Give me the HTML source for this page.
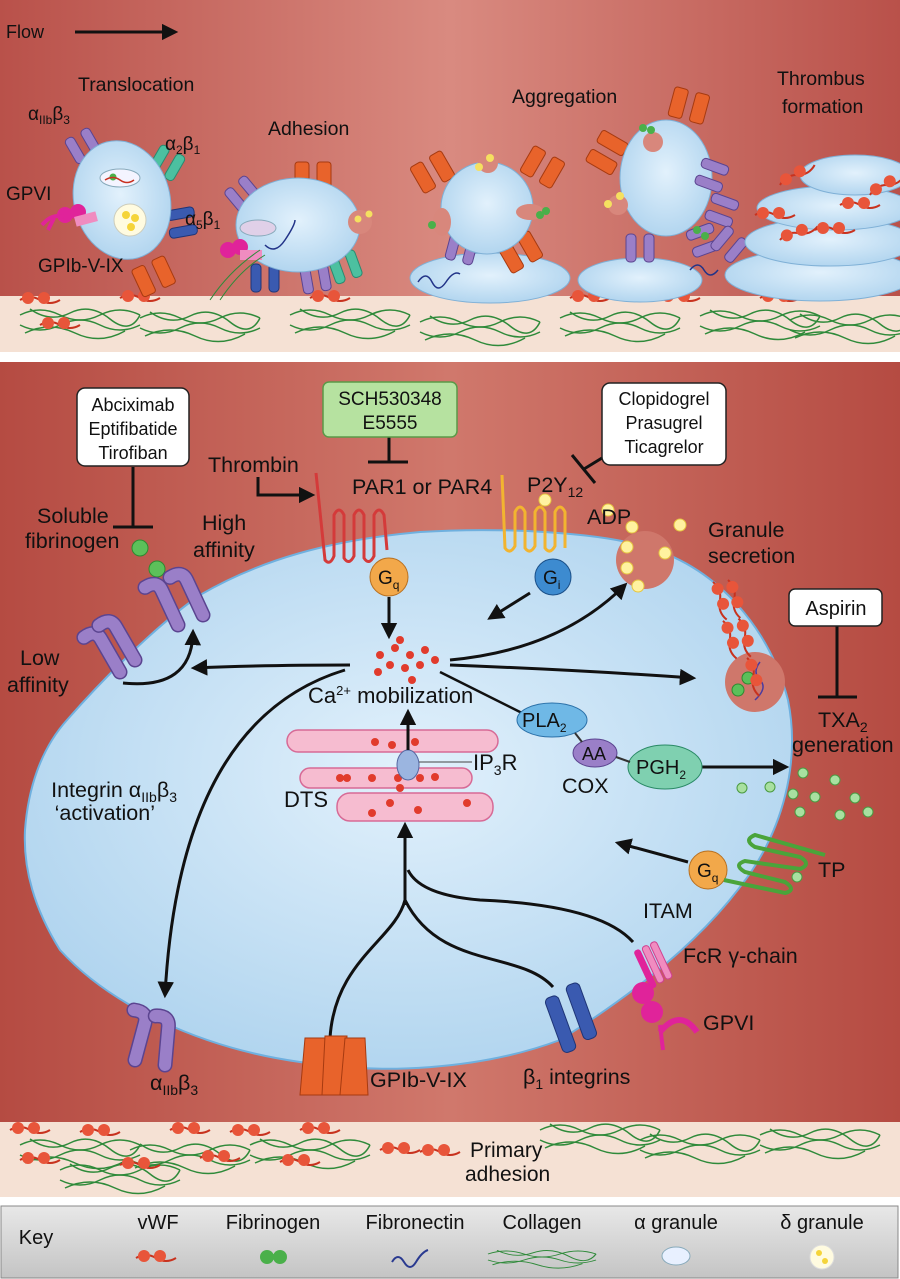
<!DOCTYPE html>
<html><head><meta charset="utf-8"><style>
html,body{margin:0;padding:0;background:#fff}
svg{display:block}
text{font-family:"Liberation Sans",sans-serif;fill:#111}
</style></head><body>
<svg width="900" height="1279" viewBox="0 0 900 1279" xmlns="http://www.w3.org/2000/svg">
<defs>
<linearGradient id="rg" x1="0" y1="0" x2="1" y2="0">
<stop offset="0" stop-color="#b9514a"/><stop offset="0.5" stop-color="#d98a80"/><stop offset="1" stop-color="#b9514a"/></linearGradient>
<linearGradient id="rg2" x1="0" y1="0" x2="1" y2="0">
<stop offset="0" stop-color="#b54b42"/><stop offset="0.5" stop-color="#d0786c"/><stop offset="1" stop-color="#b54b42"/></linearGradient>
<linearGradient id="kg" x1="0" y1="0" x2="0" y2="1">
<stop offset="0" stop-color="#e8e8e8"/><stop offset="1" stop-color="#c4c4c4"/></linearGradient>
<radialGradient id="cell" cx="0.5" cy="0.45" r="0.6"><stop offset="0" stop-color="#e2f1fc"/><stop offset="1" stop-color="#aed3ee"/></radialGradient>
<marker id="ah" viewBox="0 0 10 10" refX="8" refY="5" markerWidth="5.5" markerHeight="5.5" orient="auto"><path d="M0,0L10,5L0,10z" fill="#111"/></marker>
<g id="orange"><rect x="-18" y="-30" width="14" height="30" rx="3" fill="#e8632b" stroke="#a63a10"/><rect x="4" y="-30" width="14" height="30" rx="3" fill="#e8632b" stroke="#a63a10"/></g>
<g id="purple"><rect x="-14" y="-28" width="10" height="28" rx="4" fill="#9a7fc8" stroke="#5b4490"/><rect x="4" y="-28" width="10" height="28" rx="4" fill="#9a7fc8" stroke="#5b4490"/></g>
<g id="blue"><rect x="-14" y="-28" width="10" height="28" rx="4" fill="#3a5ab0" stroke="#1f3577"/><rect x="4" y="-28" width="10" height="28" rx="4" fill="#3a5ab0" stroke="#1f3577"/></g>
<g id="teal"><rect x="-14" y="-28" width="10" height="28" rx="4" fill="#4cc0a0" stroke="#2a8a70"/><rect x="4" y="-28" width="10" height="28" rx="4" fill="#4cc0a0" stroke="#2a8a70"/></g>
<g id="hook"><path d="M0,0 L0,-38 Q0,-50 -14,-48" stroke="#5b4490" stroke-width="15" fill="none" stroke-linecap="round"/><path d="M0,0 L0,-38 Q0,-50 -14,-48" stroke="#9a7fc8" stroke-width="12" fill="none" stroke-linecap="round"/></g>
<g id="vwf"><path d="M0,0 q10,-6 20,0 t20,0" stroke="#c8321e" stroke-width="2" fill="none"/><circle cx="8" cy="-2" r="6" fill="#e8553a"/><circle cx="24" cy="-2" r="6" fill="#e8553a"/></g>
<g id="col" fill="none" stroke="#2f8a3a" stroke-width="1.5"><path d="M0,0 q20,-10 40,0 t40,0 t40,0"/><path d="M0,10 q20,10 40,0 t40,0 t40,0"/><path d="M10,-6 q20,14 40,4 t40,6 t30,-4"/><path d="M5,18 q25,-12 50,0 t50,-2"/></g>
</defs>

<!-- TOP PANEL -->
<rect x="0" y="0" width="900" height="352" fill="url(#rg)"/>
<rect x="0" y="296" width="900" height="56" fill="#f5e1d4"/>
<use href="#col" x="20" y="315"/><use href="#col" x="140" y="318"/><use href="#col" x="290" y="315"/><use href="#col" x="420" y="322"/><use href="#col" x="560" y="318"/><use href="#col" x="700" y="316"/><use href="#col" x="790" y="320"/>
<use href="#vwf" x="20" y="300"/><use href="#vwf" x="120" y="298"/><use href="#vwf" x="310" y="298"/><use href="#vwf" x="480" y="298"/><use href="#vwf" x="570" y="298"/><use href="#vwf" x="660" y="298"/><use href="#vwf" x="760" y="298"/><use href="#vwf" x="40" y="325"/>
<text x="6" y="38" font-size="18">Flow</text>
<line x1="75" y1="32" x2="175" y2="32" stroke="#111" stroke-width="3" marker-end="url(#ah)"/>

<!-- translocation platelet -->
<use href="#purple" x="90" y="158" transform="rotate(-30 90 158)"/>
<use href="#teal" x="160" y="175" transform="rotate(30 160 175)"/>
<use href="#blue" x="168" y="225" transform="rotate(80 168 225)"/>
<use href="#orange" x="160" y="290" transform="rotate(-25 160 290)"/>
<ellipse cx="122" cy="200" rx="48" ry="60" fill="url(#cell)" stroke="#7fb0d6" transform="rotate(-15 122 200)"/>
<ellipse cx="120" cy="178" rx="20" ry="9" fill="#f4f4ff" stroke="#8ab"/>
<circle cx="113" cy="177" r="3.5" fill="#4ab04a"/><path d="M105,180 q8,-5 15,0 t14,0" stroke="#c83020" fill="none" stroke-width="1.5"/>
<circle cx="130" cy="220" r="16" fill="#fffbe0" stroke="#ccb"/><circle cx="126" cy="215" r="4" fill="#f5d43a"/><circle cx="135" cy="218" r="4" fill="#f5d43a"/><circle cx="131" cy="227" r="4" fill="#f5d43a"/>
<circle cx="65" cy="215" r="8" fill="#e0239a"/><circle cx="78" cy="212" r="8" fill="#e0239a"/><path d="M42,225 q10,-12 22,-8 M48,230 l6,-12" stroke="#e0239a" stroke-width="4" fill="none"/>
<rect x="75" y="214" width="22" height="10" fill="#f08cc0" transform="rotate(-15 86 219)"/>

<!-- adhesion platelet -->
<use href="#orange" x="313" y="192"/>
<use href="#purple" x="252" y="205" transform="rotate(-40 252 205)"/>
<use href="#blue" x="265" y="292"/>
<use href="#purple" x="318" y="292" transform="rotate(-10 318 292)"/>
<use href="#teal" x="350" y="280" transform="rotate(-20 350 280)"/>
<ellipse cx="298" cy="225" rx="62" ry="47" fill="url(#cell)" stroke="#7fb0d6"/>
<circle cx="360" cy="222" r="12" fill="#d8877c"/>
<circle cx="358" cy="219" r="3.5" fill="#f5e060"/><circle cx="369" cy="214" r="3.5" fill="#f5e060"/>
<ellipse cx="258" cy="228" rx="18" ry="8" fill="#e0d0e8" stroke="#8ab"/>
<path d="M265,245 q10,10 20,-5 t10,-20" stroke="#223388" fill="none" stroke-width="1.5"/>
<circle cx="228" cy="250" r="8" fill="#e0239a"/><circle cx="240" cy="247" r="8" fill="#e0239a"/><rect x="240" y="250" width="22" height="10" fill="#f08cc0"/>
<path d="M210,300 q20,-30 50,-50 M220,300 q20,-30 45,-45" stroke="#2f8a3a" fill="none"/>

<!-- aggregation -->
<ellipse cx="490" cy="278" rx="80" ry="25" fill="url(#cell)" stroke="#7fb0d6"/>
<use href="#orange" x="440" y="185" transform="rotate(-30 440 185)"/>
<use href="#orange" x="535" y="180" transform="rotate(30 535 180)"/>
<use href="#orange" x="528" y="265" transform="rotate(-30 528 265)"/>
<use href="#purple" x="458" y="262" transform="rotate(15 458 262)"/>
<circle cx="487" cy="208" r="46" fill="url(#cell)" stroke="#7fb0d6"/>
<circle cx="488" cy="163" r="10" fill="#d8877c"/>
<circle cx="479" cy="167" r="4" fill="#f5e060"/><circle cx="490" cy="158" r="4" fill="#f5e060"/>
<ellipse cx="442" cy="222" rx="9" ry="14" fill="#d8877c"/><ellipse cx="530" cy="212" rx="14" ry="8" fill="#d8877c"/>
<circle cx="432" cy="225" r="4" fill="#4ab04a"/><circle cx="546" cy="211" r="4" fill="#4ab04a"/><circle cx="540" cy="215" r="4" fill="#4ab04a"/>
<path d="M418,282 q8,-12 14,0 t14,0 t14,-8" stroke="#223388" fill="none" stroke-width="1.5"/>

<ellipse cx="640" cy="280" rx="62" ry="22" fill="url(#cell)" stroke="#7fb0d6"/>
<use href="#orange" x="685" y="120" transform="rotate(15 685 120)"/>
<use href="#orange" x="620" y="160" transform="rotate(-60 620 160)"/>
<use href="#purple" x="640" y="262"/>
<ellipse cx="666" cy="178" rx="46" ry="58" fill="url(#cell)" stroke="#7fb0d6"/>
<circle cx="653" cy="142" r="10" fill="#d8877c"/><circle cx="618" cy="205" r="10" fill="#d8877c"/>
<circle cx="608" cy="204" r="4" fill="#f5e060"/><circle cx="620" cy="196" r="4" fill="#f5e060"/>
<circle cx="643" cy="128" r="4" fill="#4ab04a"/><circle cx="651" cy="130" r="4" fill="#4ab04a"/>
<g transform="rotate(-70 725 180)"><use href="#purple" x="725" y="180"/></g>
<g transform="rotate(-70 735 215)"><use href="#purple" x="735" y="215"/></g>
<g transform="rotate(70 690 245)"><use href="#purple" x="690" y="245"/></g>
<g transform="rotate(40 720 255)"><use href="#purple" x="720" y="255"/></g>
<circle cx="697" cy="230" r="4" fill="#4ab04a"/><circle cx="705" cy="236" r="4" fill="#4ab04a"/>
<path d="M690,270 q8,-10 14,0 t14,0" stroke="#223388" fill="none" stroke-width="1.5"/>

<!-- thrombus stack -->
<ellipse cx="820" cy="275" rx="95" ry="26" fill="url(#cell)" stroke="#7fb0d6"/>
<ellipse cx="830" cy="242" rx="85" ry="24" fill="url(#cell)" stroke="#7fb0d6"/>
<ellipse cx="835" cy="208" rx="78" ry="22" fill="url(#cell)" stroke="#7fb0d6"/>
<ellipse cx="855" cy="175" rx="55" ry="20" fill="url(#cell)" stroke="#7fb0d6"/>
<use href="#vwf" x="780" y="185" transform="rotate(-30 780 185)"/><use href="#vwf" x="755" y="215"/><use href="#vwf" x="780" y="240" transform="rotate(-20 780 240)"/><use href="#vwf" x="840" y="205"/><use href="#vwf" x="870" y="195" transform="rotate(-30 870 195)"/><use href="#vwf" x="815" y="230"/>

<text x="78" y="91" font-size="19.5">Translocation</text>
<text x="28" y="120" font-size="19">α<tspan font-size="12" dy="4">IIb</tspan><tspan dy="-4">β</tspan><tspan font-size="12" dy="4">3</tspan></text>
<text x="165" y="150" font-size="19">α<tspan font-size="12" dy="4">2</tspan><tspan dy="-4">β</tspan><tspan font-size="12" dy="4">1</tspan></text>
<text x="6" y="200" font-size="19">GPVI</text>
<text x="185" y="225" font-size="19">α<tspan font-size="12" dy="4">5</tspan><tspan dy="-4">β</tspan><tspan font-size="12" dy="4">1</tspan></text>
<text x="38" y="272" font-size="19">GPIb-V-IX</text>
<text x="268" y="135" font-size="19.5">Adhesion</text>
<text x="512" y="103" font-size="19.5">Aggregation</text>
<text x="777" y="85" font-size="19.5">Thrombus</text>
<text x="782" y="113" font-size="19.5">formation</text>

<!-- BOTTOM PANEL -->
<rect x="0" y="362" width="900" height="835" fill="url(#rg2)"/>
<rect x="0" y="1122" width="900" height="75" fill="#f5e1d4"/>
<use href="#col" x="20" y="1145"/><use href="#col" x="130" y="1150"/><use href="#col" x="250" y="1145"/><use href="#col" x="540" y="1130"/><use href="#col" x="640" y="1140"/><use href="#col" x="760" y="1135"/><use href="#col" x="60" y="1170"/>
<use href="#vwf" x="10" y="1130"/><use href="#vwf" x="80" y="1132"/><use href="#vwf" x="170" y="1130"/><use href="#vwf" x="230" y="1132"/><use href="#vwf" x="300" y="1130"/><use href="#vwf" x="380" y="1150"/><use href="#vwf" x="20" y="1160"/><use href="#vwf" x="120" y="1165"/><use href="#vwf" x="200" y="1158"/><use href="#vwf" x="280" y="1162"/><use href="#vwf" x="420" y="1152"/>
<text x="470" y="1157" font-size="21">Primary</text>
<text x="465" y="1181" font-size="21">adhesion</text>

<!-- cell -->
<path d="M25,830 C28,790 40,750 67,720 C95,688 150,630 200,595 C260,560 330,540 420,532 C500,527 600,532 650,548 C720,570 770,630 788,700 C800,760 785,830 740,887 C700,940 640,990 560,1040 C480,1070 380,1075 300,1062 C200,1048 110,1005 60,950 C35,910 23,870 25,830 Z" fill="url(#cell)" stroke="#6fb0df" stroke-width="2"/>
<circle cx="645" cy="560" r="29" fill="#cf776b"/>
<ellipse cx="755" cy="682" rx="30" ry="30" fill="#cf776b"/>

<!-- DTS -->
<g fill="#f6bcd0" stroke="#d76a96" stroke-width="1.5">
<rect x="287" y="730" width="211" height="22" rx="11"/><rect x="300" y="768" width="172" height="20" rx="10"/><rect x="337" y="793" width="156" height="28" rx="13"/>
</g>
<g fill="#e13b2c"><circle cx="375" cy="742" r="4"/><circle cx="392" cy="745" r="4"/><circle cx="415" cy="742" r="4"/><circle cx="340" cy="778" r="4"/><circle cx="347" cy="778" r="4"/><circle cx="372" cy="778" r="4"/><circle cx="398" cy="778" r="4"/><circle cx="420" cy="778" r="4"/><circle cx="435" cy="777" r="4"/><circle cx="400" cy="788" r="4"/><circle cx="390" cy="803" r="4"/><circle cx="372" cy="813" r="4"/><circle cx="418" cy="810" r="4"/><circle cx="467" cy="803" r="4"/></g>
<ellipse cx="408" cy="765" rx="11" ry="15" fill="#9bb5e0" stroke="#5566a0"/>
<line x1="419" y1="762" x2="472" y2="762" stroke="#444"/>
<text x="473" y="770" font-size="22">IP<tspan font-size="14" dy="5">3</tspan><tspan dy="-5">R</tspan></text>
<text x="284" y="807" font-size="22">DTS</text>

<!-- Ca -->
<g fill="#e13b2c"><circle cx="380" cy="655" r="4"/><circle cx="395" cy="648" r="4"/><circle cx="410" cy="655" r="4"/><circle cx="425" cy="650" r="4"/><circle cx="390" cy="665" r="4"/><circle cx="405" cy="668" r="4"/><circle cx="420" cy="665" r="4"/><circle cx="435" cy="660" r="4"/><circle cx="400" cy="640" r="4"/><circle cx="378" cy="672" r="4"/><circle cx="412" cy="680" r="4"/></g>
<text x="308" y="703" font-size="22">Ca<tspan font-size="13" dy="-8">2+</tspan><tspan dy="8"> mobilization</tspan></text>

<!-- arrows -->
<g stroke="#111" stroke-width="3" fill="none" marker-end="url(#ah)">
<line x1="389" y1="597" x2="389" y2="636"/>
<line x1="408" y1="750" x2="408" y2="712"/>
<line x1="530" y1="593" x2="490" y2="618"/>
<path d="M450,660 Q560,650 625,585"/>
<path d="M450,665 Q580,670 693,678"/>
<path d="M350,665 Q260,665 194,668"/>
<path d="M345,670 Q180,720 165,995"/>
<path d="M123,683 Q192,690 193,632"/>
<line x1="688" y1="862" x2="618" y2="843"/>
<line x1="700" y1="767" x2="786" y2="767"/>
<path d="M405,905 V825"/>
<path d="M258,477 V495 H312"/>
</g>
<g stroke="#111" stroke-width="3" fill="none">
<path d="M330,1038 C335,960 395,940 405,900"/>
<path d="M553,987 C520,950 440,970 405,900"/>
<path d="M633,942 Q600,905 480,900 Q420,895 408,870"/>
<line x1="133" y1="467" x2="133" y2="527"/><line x1="113" y1="527" x2="153" y2="527"/>
<line x1="389" y1="437" x2="389" y2="462"/><line x1="368" y1="462" x2="408" y2="462"/>
<line x1="602" y1="458" x2="584" y2="469"/><line x1="572" y1="455" x2="595" y2="483"/>
<line x1="837" y1="626" x2="837" y2="697"/><line x1="818" y1="697" x2="857" y2="697"/>
<line x1="440" y1="672" x2="522" y2="713" stroke-width="2.5"/>
</g>

<!-- receptors -->
<path d="M316,473 L325,560 Q330,566 334,556 L334,515 Q339,505 344,515 L344,558 Q349,566 354,556 L354,515 Q359,505 364,515 L364,558 Q369,566 374,556 L374,515 Q379,505 384,515 L387,550" stroke="#d43a3a" stroke-width="3" fill="none"/>
<path d="M502,475 L505,548 Q510,555 515,546 L515,512 Q520,502 525,512 L525,548 Q530,555 535,546 L535,512 Q540,502 545,512 L545,548 Q550,555 555,546 L555,512 Q560,502 565,512 L565,548" stroke="#f2b430" stroke-width="3" fill="none"/>
<circle cx="389" cy="577" r="19" fill="#f2a84a" stroke="#b87020"/><text x="378" y="584" font-size="19">G<tspan font-size="12" dy="5">q</tspan></text>
<circle cx="553" cy="577" r="18" fill="#3d8bd0" stroke="#1a4f88"/><text x="543" y="584" font-size="19">G<tspan font-size="12" dy="5">i</tspan></text>
<circle cx="708" cy="870" r="19" fill="#f2a84a" stroke="#b87020"/><text x="697" y="877" font-size="19">G<tspan font-size="12" dy="5">q</tspan></text>
<path d="M724,880 L785,893 Q797,890 785,882 L745,872 Q733,865 745,861 L800,869 Q812,864 800,857 L755,847 Q743,840 755,835 L825,855" stroke="#4aa43a" stroke-width="4" fill="none"/>
<g fill="#a8e0a0" stroke="#4a9a40"><circle cx="797" cy="877" r="5"/><circle cx="803" cy="773" r="5"/><circle cx="742" cy="788" r="5"/><circle cx="770" cy="787" r="5"/><circle cx="793" cy="794" r="5"/><circle cx="815" cy="797" r="5"/><circle cx="800" cy="812" r="5"/><circle cx="835" cy="780" r="5"/><circle cx="855" cy="798" r="5"/><circle cx="840" cy="815" r="5"/><circle cx="868" cy="812" r="5"/></g>
<g fill="#5cc05a" stroke="#2e8a30"><circle cx="140" cy="548" r="8"/><circle cx="157" cy="569" r="8"/><circle cx="738" cy="690" r="6"/><circle cx="748" cy="678" r="6"/></g>
<path d="M760,662 q-8,10 0,18 t-5,20" stroke="#4a3aa0" stroke-width="1.5" fill="none"/>
<g fill="#fff2a0" stroke="#e6c640"><circle cx="545" cy="500" r="6"/><circle cx="608" cy="510" r="6"/><circle cx="632" cy="527" r="6"/><circle cx="680" cy="525" r="6"/><circle cx="665" cy="553" r="6"/><circle cx="627" cy="547" r="6"/><circle cx="627" cy="568" r="6"/><circle cx="638" cy="586" r="6"/></g>
<g transform="translate(713,582) rotate(70)"><use href="#vwf"/><use href="#vwf" x="40" y="4"/></g>
<g transform="translate(728,580) rotate(72)"><use href="#vwf"/><use href="#vwf" x="40" y="2"/><use href="#vwf" x="80" y="6"/></g>
<ellipse cx="552" cy="720" rx="35" ry="17" fill="#6fb8e6" stroke="#2a70a8"/><text x="522" y="727" font-size="20">PLA<tspan font-size="12" dy="5">2</tspan></text>
<ellipse cx="595" cy="753" rx="22" ry="14" fill="#9a7fc8" stroke="#5b4490"/><text x="582" y="760" font-size="18">AA</text>
<ellipse cx="665" cy="767" rx="37" ry="22" fill="#7fd0b0" stroke="#2a8a66"/><text x="636" y="774" font-size="20">PGH<tspan font-size="12" dy="5">2</tspan></text>
<line x1="575" y1="733" x2="582" y2="742" stroke="#333" stroke-width="2"/><line x1="616" y1="757" x2="630" y2="762" stroke="#333" stroke-width="2"/>
<use href="#hook" x="178" y="625" transform="rotate(-25 178 625)"/>
<use href="#hook" x="203" y="615" transform="rotate(-25 203 615)"/>
<use href="#hook" x="120" y="672" transform="rotate(-30 120 672)"/>
<use href="#hook" x="135" y="660" transform="rotate(-30 135 660)"/>
<use href="#hook" x="135" y="1060" transform="rotate(15 135 1060)"/>
<use href="#hook" x="165" y="1065" transform="rotate(5 165 1065)"/>
<g fill="#e8632b" stroke="#a63a10"><path d="M300,1095 L305,1038 h20 L328,1095 Z"/><path d="M322,1095 L325,1036 h22 L345,1095 Z"/><path d="M340,1095 L345,1038 h20 L368,1095 Z"/></g>
<g transform="rotate(-20 575 1020)"><rect x="553" y="990" width="14" height="58" rx="5" fill="#3a5ab0" stroke="#1f3577"/><rect x="577" y="985" width="14" height="58" rx="5" fill="#3a5ab0" stroke="#1f3577"/></g>
<g transform="rotate(-25 652 968)"><rect x="642" y="945" width="7" height="42" rx="3" fill="#e0239a"/><rect x="651" y="945" width="7" height="40" rx="3" fill="#f08cc0" stroke="#d04090"/><rect x="660" y="945" width="7" height="40" rx="3" fill="#f08cc0" stroke="#d04090"/></g>
<circle cx="643" cy="993" r="11" fill="#e0239a"/><circle cx="652" cy="1012" r="11" fill="#e0239a"/>
<path d="M660,1032 Q680,1008 697,1032" stroke="#e0239a" stroke-width="6" fill="none"/>
<line x1="660" y1="1025" x2="663" y2="1050" stroke="#e0239a" stroke-width="4"/>

<!-- drug boxes -->
<rect x="77" y="388" width="112" height="78" rx="8" fill="#fff" stroke="#222" stroke-width="1.5"/>
<text x="133" y="411" font-size="18" text-anchor="middle">Abciximab</text>
<text x="133" y="435" font-size="18" text-anchor="middle">Eptifibatide</text>
<text x="133" y="459" font-size="18" text-anchor="middle">Tirofiban</text>
<rect x="323" y="382" width="134" height="55" rx="6" fill="#b6e2a0" stroke="#5a9a48" stroke-width="1.5"/>
<text x="390" y="405" font-size="19" text-anchor="middle">SCH530348</text>
<text x="390" y="429" font-size="19" text-anchor="middle">E5555</text>
<rect x="602" y="383" width="124" height="82" rx="8" fill="#fff" stroke="#222" stroke-width="1.5"/>
<text x="664" y="405" font-size="18" text-anchor="middle">Clopidogrel</text>
<text x="664" y="429" font-size="18" text-anchor="middle">Prasugrel</text>
<text x="664" y="453" font-size="18" text-anchor="middle">Ticagrelor</text>
<rect x="789" y="589" width="93" height="37" rx="6" fill="#fff" stroke="#222" stroke-width="1.5"/>
<text x="836" y="615" font-size="20" text-anchor="middle">Aspirin</text>

<!-- labels -->
<g font-size="21.5">
<text x="208" y="472">Thrombin</text>
<text x="352" y="494">PAR1 or PAR4</text>
<text x="527" y="492">P2Y<tspan font-size="14" dy="5">12</tspan></text>
<text x="587" y="524">ADP</text>
<text x="708" y="537">Granule</text>
<text x="708" y="563">secretion</text>
<text x="37" y="523">Soluble</text>
<text x="25" y="548">fibrinogen</text>
<text x="202" y="530">High</text>
<text x="193" y="557">affinity</text>
<text x="20" y="665">Low</text>
<text x="7" y="692">affinity</text>
<text x="818" y="727">TXA<tspan font-size="14" dy="5">2</tspan></text>
<text x="792" y="752">generation</text>
<text x="562" y="793">COX</text>
<text x="177" y="797" text-anchor="end">Integrin α<tspan font-size="14" dy="5">IIb</tspan><tspan dy="-5">β</tspan><tspan font-size="14" dy="5">3</tspan></text>
<text x="155" y="820" text-anchor="end">‘activation’</text>
<text x="818" y="877">TP</text>
<text x="643" y="918">ITAM</text>
<text x="683" y="963">FcR γ-chain</text>
<text x="703" y="1030">GPVI</text>
<text x="523" y="1084">β<tspan font-size="14" dy="5">1</tspan><tspan dy="-5"> integrins</tspan></text>
<text x="370" y="1087">GPIb-V-IX</text>
<text x="150" y="1090">α<tspan font-size="14" dy="5">IIb</tspan><tspan dy="-5">β</tspan><tspan font-size="14" dy="5">3</tspan></text>
</g>

<!-- KEY -->
<rect x="0" y="1197" width="900" height="82" fill="#fff"/>
<rect x="1" y="1206" width="897" height="72" fill="url(#kg)" stroke="#888"/>
<g font-size="20" text-anchor="middle">
<text x="36" y="1244">Key</text>
<text x="158" y="1229">vWF</text>
<text x="273" y="1229">Fibrinogen</text>
<text x="415" y="1229">Fibronectin</text>
<text x="542" y="1229">Collagen</text>
<text x="676" y="1229">α granule</text>
<text x="822" y="1229">δ granule</text>
</g>
<use href="#vwf" x="136" y="1258"/>
<circle cx="267" cy="1257" r="7" fill="#4ab04a"/><circle cx="280" cy="1257" r="7" fill="#4ab04a"/>
<path d="M392,1262 q6,-10 12,0 t12,0 t12,-12" stroke="#2a3a90" stroke-width="2" fill="none"/>
<g transform="translate(488,1254) scale(0.9,0.6)"><use href="#col"/></g>
<ellipse cx="676" cy="1256" rx="14" ry="9" fill="#e8f0ff" stroke="#8ab"/>
<circle cx="822" cy="1257" r="12" fill="#fffbe0" stroke="#ddd"/><circle cx="819" cy="1253" r="3" fill="#f5d43a"/><circle cx="825" cy="1261" r="3" fill="#f5d43a"/>
</svg>
</body></html>
